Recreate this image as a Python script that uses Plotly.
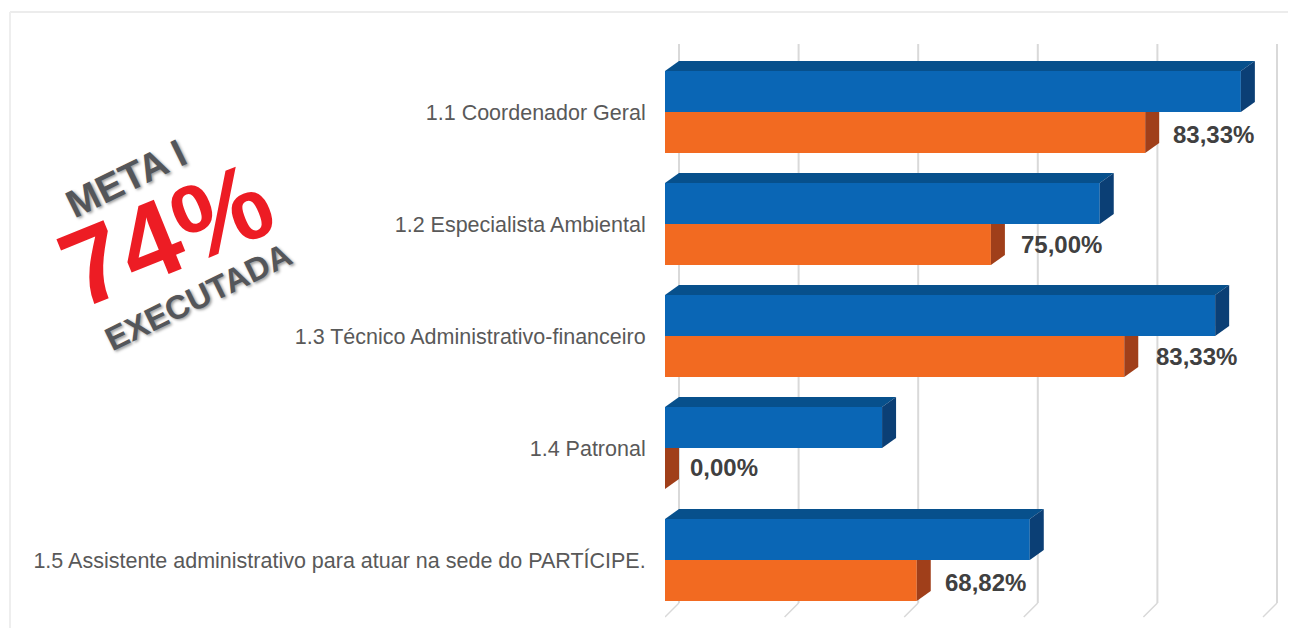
import plotly.graph_objects as go

categories = ["1.1 Coordenador Geral", "1.2 Especialista Ambiental",
              "1.3 Técnico Administrativo-financeiro", "1.4 Patronal",
              "1.5 Assistente administrativo para atuar na sede do PARTÍCIPE."]
planned = [96.3, 72.7, 92.0, 36.3, 61.0]
executed = [80.3, 54.5, 76.8, 0.0, 42.1]
value_labels = ["83,33%", "75,00%", "83,33%", "0,00%", "68,82%"]
grid_values = [0, 20, 40, 60, 80, 100]

# The page adds an 8 px body margin, so the figure is laid out 8 px smaller.
W, H = 1288, 620
OFF = 8
X0 = 665 - OFF
PX_PER_UNIT = 5.98
PX_PER_CAT = 112
Y_ZERO = 112 - OFF
BAR = 41 / PX_PER_CAT
DX = 14 / PX_PER_UNIT
DY = 10 / PX_PER_CAT
LABEL_X_NUDGE = [0, 2, 4, -3, 0]
LABEL_Y_NUDGE = [1, -1, -1, -2, 1]
pos = list(range(len(categories)))

BLUE, BLUE_TOP, BLUE_SIDE = "#0A66B5", "#07508C", "#0B3F75"
ORANGE, ORANGE_SIDE = "#F26A21", "#A03F1A"
GRID = "#D9D9D9"

fig = go.Figure()
fig.add_bar(y=pos, x=planned, orientation="h", marker=dict(color=BLUE, line_width=0),
            width=BAR, offset=-BAR, hoverinfo="skip")
fig.add_bar(y=pos, x=executed, orientation="h", marker=dict(color=ORANGE, line_width=0),
            width=BAR, offset=0, hoverinfo="skip")


def poly(xs, ys, color):
    fig.add_scatter(x=xs + xs[:1], y=ys + ys[:1], mode="lines", fill="toself", fillcolor=color,
                    line=dict(width=0, color=color), hoverinfo="skip")


for p, v, e in zip(pos, planned, executed):
    top, mid, bot = p - BAR, p, p + BAR
    poly([0, DX, v + DX, v], [top, top - DY, top - DY, top], BLUE_TOP)
    poly([v, v + DX, v + DX, v], [top, top - DY, mid - DY, mid], BLUE_SIDE)
    poly([e, e + DX, e + DX, e], [mid, mid, bot - DY, bot], ORANGE_SIDE)

y_top = (44 - OFF - Y_ZERO) / PX_PER_CAT
y_back = (603 - OFF - Y_ZERO) / PX_PER_CAT
y_front = (617 - OFF - Y_ZERO) / PX_PER_CAT
shapes = []
for g in grid_values:
    shapes.append(dict(type="line", xref="x", yref="y", x0=g + DX, x1=g + DX, y0=y_top, y1=y_back,
                       line=dict(color=GRID, width=2), layer="below"))
    shapes.append(dict(type="line", xref="x", yref="y", x0=g + DX, x1=g, y0=y_back, y1=y_front,
                       line=dict(color=GRID, width=1.5), layer="below"))
fy = 1 - (12 - OFF) / H
fx = (10 - OFF) / W
shapes.append(dict(type="line", xref="paper", yref="paper", x0=fx, x1=1, y0=fy, y1=fy,
                   line=dict(color="#E6E6E6", width=1.5), layer="below"))
shapes.append(dict(type="line", xref="paper", yref="paper", x0=fx, x1=fx, y0=0, y1=fy,
                   line=dict(color="#EEEEEE", width=2), layer="below"))

annotations = []
for p, e, t, nx, ny in zip(pos, executed, value_labels, LABEL_X_NUDGE, LABEL_Y_NUDGE):
    annotations.append(dict(x=e, y=p + 0.195, xref="x", yref="y", text=t, showarrow=False,
                            xanchor="left", yanchor="middle", xshift=DX * PX_PER_UNIT + 12 + nx, yshift=-ny,
                            font=dict(family="Liberation Sans", size=24, color="#404040", weight="bold")))

GREY = "#54565A"
RED = "#ED1C24"
SH = "1px 2px 3px #999999"
for text, cx, cy, size, color, ang, shadow in [
    ("META I", 126, 178, 39, GREY, -26, SH),
    ("74%", 166, 234, 108, RED, -22, "none"),
    ("EXECUTADA", 199, 297, 33, GREY, -26, SH),
]:
    annotations.append(dict(x=(cx - OFF) / W, y=1 - (cy - OFF) / H, xref="paper", yref="paper", text=text,
                            showarrow=False, textangle=ang, xanchor="center", yanchor="middle",
                            font=dict(family="Liberation Sans", size=size, color=color, weight="bold", shadow=shadow)))

fig.update_layout(
    width=W, height=H, margin=dict(l=0, r=0, t=0, b=0), autosize=False,
    paper_bgcolor="white", plot_bgcolor="white", showlegend=False,
    shapes=shapes, annotations=annotations, barmode="overlay",
    xaxis=dict(domain=[X0 / W, 1], range=[0, (W - X0) / PX_PER_UNIT], showgrid=False, zeroline=False,
               showticklabels=False, ticks="", showline=False),
    yaxis=dict(range=[(H - Y_ZERO) / PX_PER_CAT, -Y_ZERO / PX_PER_CAT], tickmode="array", tickvals=pos,
               ticktext=categories, showgrid=False, zeroline=False, showline=False, ticks="outside",
               ticklen=14, tickcolor="rgba(0,0,0,0)",
               tickfont=dict(family="Liberation Sans", size=21.5, color="#595959")),
)
fig.write_html("out.html", config=dict(displayModeBar=False))
